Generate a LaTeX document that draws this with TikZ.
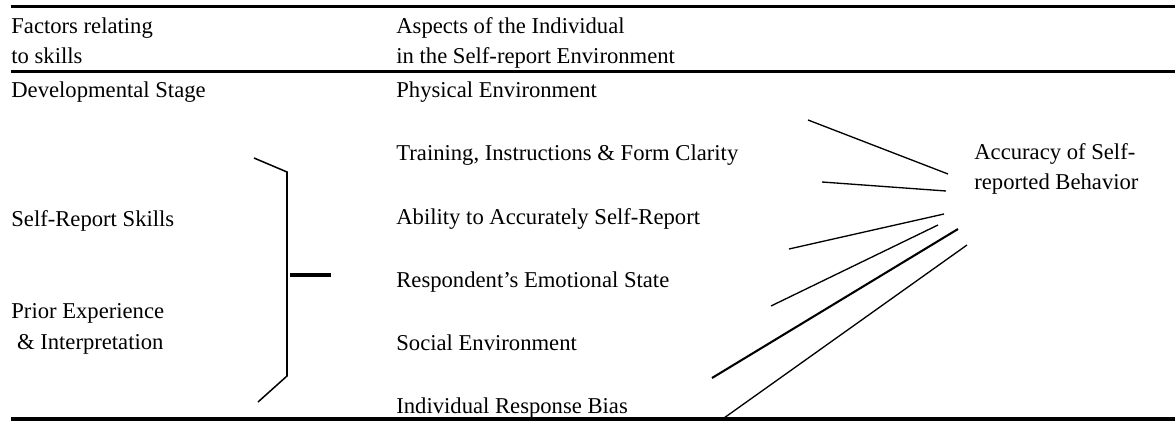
\documentclass[tikz,border=0pt]{standalone}
\usepackage{fontspec}
\setmainfont{Liberation Serif}
\begin{document}
\begin{tikzpicture}[x=0.53pt,y=-0.53pt]
 \tikzset{
  txt/.style={anchor=base west, inner sep=0pt, align=left, font=\fontsize{12}{16.4}\selectfont},
  rule/.style={line width=1.6pt},
  brc/.style={line width=0.8pt, line join=miter},
  con/.style={line width=0.7pt}
 }
 \def\lx{11}
 \def\mx{396}

 \useasboundingbox (0,0) rectangle (1175,423);

 % table rules
 \draw [rule] (\lx,6.5) -- (1175,6.5);
 \draw [rule] (\lx,71.5) -- (1175,71.5);
 \draw [rule, line width=2pt] (\lx,419) -- (1175,419);

 % headings (base = last line)
 \node [txt] (hskill) at (\lx,64) {Factors relating\\to skills};
 \node [txt] (hindiv) at (\mx,64) {Aspects of the Individual\\in the Self-report Environment};

 % left column
 \node [txt] (dev) at (\lx,98) {Developmental Stage};
 \node [txt] (skill) at (\lx,226) {Self-Report Skills};
 \node [txt] (prior) at (\lx,349) {Prior Experience\\\ \& Interpretation};

 % middle column
 \foreach \t [count=\i] in {Physical Environment,
                            {Training, Instructions \& Form Clarity},
                            Ability to Accurately Self-Report,
                            Respondent’s Emotional State,
                            Social Environment,
                            Individual Response Bias}
  { \node [txt] (a\i) at (\mx,{98+63*(\i-1)}) {\t}; }

 % outcome
 \node [txt] (acc) at (974,190) {Accuracy of Self-\\reported Behavior};

 % bracket over the skills
 \coordinate (btop) at (254,158);
 \coordinate (bbot) at (258,402);
 \coordinate (bmid) at (290,275);
 \coordinate (bout) at (331,275);
 \draw [brc] (btop) -- (287,172) -- (287,376) -- (bbot);
 \draw [rule] (bmid) -- (bout);

 % lines fanning out from the outcome
 \foreach \x/\y/\u/\v/\w [count=\i] in {808/120/948/174/0.7,
                                        822/182/946/191/0.7,
                                        789/249/944/214/0.7,
                                        771/306/938/225/0.7,
                                        712/378/958/229/1.1,
                                        724/418/967/245/0.7}
 {
  \coordinate (s\i) at (\x,\y);
  \coordinate (e\i) at (\u,\v);
  \draw [con, line width=\w pt] (s\i) -- (e\i);
 }
\end{tikzpicture}
\end{document}
